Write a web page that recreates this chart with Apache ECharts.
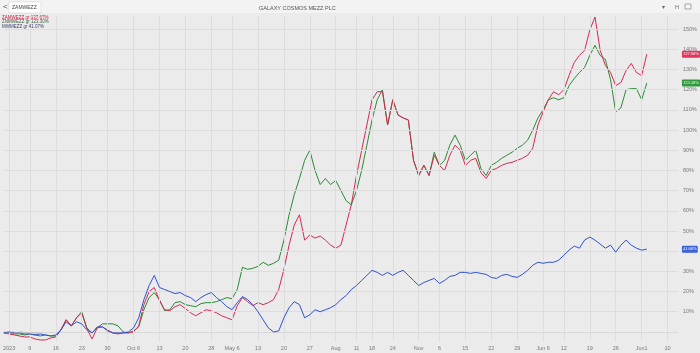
<!DOCTYPE html>
<html><head><meta charset="utf-8">
<script src="https://cdn.jsdelivr.net/npm/echarts@6/dist/echarts.min.js"></script>
<style>html,body{margin:0;padding:0;background:#ebebeb}#c{width:700px;height:353px}</style>
</head><body><div id="c"></div>
<script>
// trading-day index based x axis
const tickIdx = [1,5,10,15,20,25,30,35,40,44,49,54,59,64,68,71,75,80,84,89,94,99,104,108,113,118,123,128];
const tickLabels = ['2023','9','16','23','30','Oct 6','13','20','28','May 6','13','20','27','Aug','11','18','24','Nov','6','15','22','29','Jun 6','12','19','26','Jun1','10'];
const yTicks = [10,20,30,40,50,60,70,80,90,100,110,120,130,140,150];

const redValues = [-0.5,-1,-1.5,-2,-2.5,-2.5,-3.5,-4,-4,-3,-2.5,1,6,3,7,9.5,1.5,-3.5,2,2.5,1,-0.5,-1,-0.5,-0.5,0,3,13.5,20,22,15.5,11,10.5,12.5,13.5,11.5,9.5,8,9.5,11,10.5,9.5,8,7,6,13,17,15,13,14.5,13.5,14.5,16,21,31,43,53,58,45.5,48,46.5,47.5,45.5,43,41.5,43,53,63,77.5,90,102.5,115,119,119,102.5,115,107.5,106,105,85,77.5,82.5,77.5,87.5,82.5,80,87.5,92.5,90,82.5,85,86,79,76,80,81,82.5,83.5,84,85,86,87.5,91,102.5,109,115,119,117.5,120,127,133.5,137,139.5,149.5,156,139.5,132,128.5,122,123.5,129.5,133,128.5,127,137.6];
const greenValues = [-0.5,-0.5,-1,-1,-1.5,-1,-1.5,-2,-1.5,-2,-2,1,6,3,7,10,2,-0.5,2,4,4,4,3,0,-0.5,0.5,2.5,11,17,19.5,16,10.5,11,14.5,15,13.5,13,12.5,14,14.5,14.5,15,16,17,16.5,21,32,31,31.5,32.5,34.5,33,34,35.5,45.5,58,68,76,85,90,80,73,76,73,75,70,65,63,70,80,92.5,105,115,120,102.5,115,107.5,106,105,85,77.5,82.5,77.5,89,82.5,85,92.5,97.5,92.5,85,87.5,90,81,77.5,82.5,84,86,87.5,89,91,92.5,95,100,106,110,115,116,115,116,122,125.5,128.5,131,137,142,137,135,125,109,111,120,120.5,120.5,115,123.3];
const blueValues = [-0.5,0,-0.5,-0.5,-1,-1,-1.5,-1,-1.5,-2,-1.5,1,5,3,5,4,1,-0.5,2.5,2.5,0.5,-0.5,-0.5,-0.5,0,2,7,16,23,28,22,21,20,19,19.5,18,17,15,17,18.5,19.5,17,15,12.5,11,14.5,17.5,16,13.5,10,6,2,0,0.5,7,12,15,13.5,7,8.5,11,10,11,12,13.5,16,18,21,23,25.5,28,30.5,29.5,28,29.5,28,29.5,30.5,28,25.5,23,24.5,25.5,26.5,24,25.5,27.5,28,29.5,29.5,29,29.5,29,28.5,27,26.5,28,28.5,27.5,27,28.5,30.5,33,34.5,34,34.5,34.5,35.5,38,40.5,42.5,41.5,45.5,47,45.5,43.5,41.5,43,39.5,43,45.5,43,41.5,40.5,41];

const seriesNames = ['ZAMWEZZ gr 137.67%','ZNMWEZZ gr 123.30%','MWMEZZ gr 41.07%'];
const colors = ['#d42a50','#2a8a35','#2f52cf'];

const toPairs = a => a.map((v,i)=>[i,v]);
const chart = echarts.init(document.getElementById('c'), null, {renderer:'canvas'});

function tag(vals, color){
  const last = vals[vals.length-1];
  return {silent:true, symbol:['none','none'], lineStyle:{color:'rgba(0,0,0,0)', width:0},
    label:{show:true, position:'end', distance:4, formatter: last.toFixed(2)+'%', color:'#fff', opacity:1,
      backgroundColor: color, padding:[1,1,1,1], fontSize:4.5, borderRadius:1, fontFamily:'Liberation Sans Narrow'},
    data:[{yAxis:last}]};
}

const gridLines = yTicks.map(v=>({yAxis:v})).concat(tickIdx.map(i=>({xAxis:i})));

chart.setOption({
  backgroundColor:'#ebebeb',
  animation:false,
  grid:{left:2, right:22, top:16, bottom:12},
  xAxis:{type:'value', min:0, max:130,
    axisLine:{show:true, lineStyle:{color:'#d8d8d8'}}, axisTick:{show:false}, splitLine:{show:false},
    axisLabel:{customValues:tickIdx, formatter:v=>tickLabels[tickIdx.indexOf(v)] ?? '', fontSize:5.5, color:'#7a7a7a', margin:4, fontFamily:'Liberation Sans'}},
  yAxis:{type:'value', position:'right', min:-4.5, max:156.5,
    axisLine:{show:false}, axisTick:{show:false}, splitLine:{show:false},
    axisLabel:{customValues:yTicks, formatter:v=>v+'%', fontSize:5.5, color:'#7a7a7a', margin:5, fontFamily:'Liberation Sans'}},
  graphic:[
    {type:'rect', shape:{x:0,y:0,width:700,height:13}, style:{fill:'#f3f3f3'}, z:10},
    {type:'text', left:3, top:3, style:{text:'<', fontSize:8, fill:'#555'}, z:11},
    {type:'rect', shape:{x:9,y:2,width:32,height:11}, style:{fill:'#fff', stroke:'#c8c8c8', lineWidth:0.5}, z:11},
    {type:'text', left:12, top:5, style:{text:'ZAMWEZZ', fontSize:5, fill:'#444', fontFamily:'Liberation Sans'}, z:12},
    {type:'text', left:259, top:5, style:{text:'GALAXY COSMOS MEZZ PLC', fontSize:5.5, fill:'#555', fontFamily:'Liberation Sans'}, z:12},
    {type:'text', left:662, top:4, style:{text:'▾', fontSize:6, fill:'#666'}, z:12},
    {type:'text', left:675, top:4, style:{text:'H', fontSize:5.5, fill:'#666'}, z:12},
    {type:'rect', shape:{x:685,y:4,width:6,height:5}, style:{fill:'none', stroke:'#777', lineWidth:0.6}, z:12},
    {type:'text', left:2, top:15, style:{text:seriesNames[0], fontSize:4.5, fill:'#c8203f', fontFamily:'Liberation Sans'}, z:12},
    {type:'text', left:2, top:19.5, style:{text:seriesNames[1], fontSize:4.5, fill:'#3a5a3a', fontFamily:'Liberation Sans'}, z:12},
    {type:'text', left:2, top:24, style:{text:seriesNames[2], fontSize:4.5, fill:'#3a3f6a', fontFamily:'Liberation Sans'}, z:12},
    {type:'text', left:3, top:331, style:{text:'©ProRealTime.com', fontSize:4, fill:'#a8a8a8', fontFamily:'Liberation Sans'}, z:12}
  ],
  series:[
    {type:'line', data:[], silent:true, z:1,
      markLine:{silent:true, symbol:['none','none'], label:{show:false}, animation:false,
        lineStyle:{color:'#dddddd', width:1, type:'solid'}, data:gridLines}},
    {name:seriesNames[1], type:'line', data:toPairs(greenValues), showSymbol:false, z:3,
      lineStyle:{color:colors[1], width:1}, itemStyle:{color:colors[1]}, markLine:tag(greenValues,'#2f9a3c')},
    {name:seriesNames[0], type:'line', data:toPairs(redValues), showSymbol:false, z:4,
      lineStyle:{color:colors[0], width:1}, itemStyle:{color:colors[0]}, markLine:tag(redValues,'#e0365f')},
    {name:seriesNames[2], type:'line', data:toPairs(blueValues), showSymbol:false, z:5,
      lineStyle:{color:colors[2], width:1}, itemStyle:{color:colors[2]}, markLine:tag(blueValues,'#3b63dd')}
  ]
});
</script></body></html>
